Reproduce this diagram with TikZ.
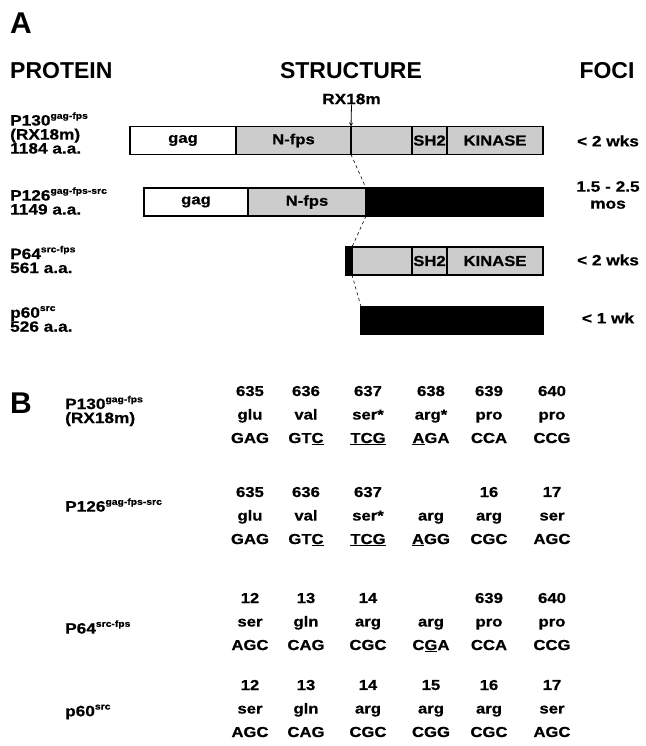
\documentclass[tikz,border=0pt]{standalone}
\usepackage{fontspec}
\setmainfont{Liberation Sans}
\newfontfamily\labfont[FakeStretch=1.15, FakeBold=0.6]{Liberation Sans}
\usetikzlibrary{arrows,positioning}
\definecolor{stipple}{gray}{0.8}
\newcommand{\protsup}[1]{\raisebox{0.85ex}{\fontsize{9}{9}\selectfont #1}}
\newcommand{\noresidue}{\phantom{0}}
\tikzset{
    panel/.style={font=\fontsize{30}{30}\selectfont\bfseries, inner sep=0},
    head/.style={font=\fontsize{23}{23}\selectfont\bfseries, inner sep=0},
    prot/.style={font=\labfont\fontsize{15}{14}\selectfont\bfseries,
                 align=left, anchor=west, inner sep=0},
    seg/.style={draw, line width=1.1pt, inner sep=0, outer sep=0,
                minimum height=28, font=\labfont\fontsize{14.5}{14.5}\selectfont\bfseries},
    segShade/.style={seg, fill=stipple},
    segSrc/.style={seg, fill=black},
    foci/.style={font=\labfont\fontsize{15}{17}\selectfont\bfseries,
                 align=center, inner sep=0},
    codon/.style={font=\labfont\fontsize{14.5}{23.5}\selectfont\bfseries,
                  align=center, inner sep=0,
                  execute at begin node=\strut, execute at end node=\strut},
    link/.style={draw, dashed, line width=0.6pt}
}

\begin{document}
\begin{tikzpicture}[x=1pt, y=-1pt]
  \useasboundingbox (0,0) rectangle (645,746);

  % panel A
  \node [panel, anchor=west] (panelA) at (10,23) {A};
  \node [head, anchor=west] (hProt) at (10,71) {PROTEIN};
  \node [head] (hStruct) at (351,71) {STRUCTURE};
  \node [head] (hFoci) at (607,71) {FOCI};

  \node [prot] (protA) at (10,133) {P130\protsup{gag-fps}\\(RX18m)\\1184 a.a.};
  \node [prot] (protB) at (10,201) {P126\protsup{gag-fps-src}\\1149 a.a.};
  \node [prot] (protC) at (10,259.5) {P64\protsup{src-fps}\\561 a.a.};
  \node [prot] (protD) at (10,319) {p60\protsup{src}\\526 a.a.};

  \node [seg, anchor=west, minimum width=106] (gagA) at (130,140.5) {gag};
  \node [segShade, minimum width=115, right=0pt of gagA] (nfpsA) {N-fps};
  \node [segShade, minimum width=61, right=0pt of nfpsA] (midA) {};
  \node [segShade, minimum width=35, right=0pt of midA] (shA) {SH2};
  \node [segShade, minimum width=96, right=0pt of shA] (kinA) {KINASE};

  \node [seg, anchor=west, minimum width=104] (gagB) at (144,202) {gag};
  \node [segShade, minimum width=118, right=0pt of gagB] (nfpsB) {N-fps};
  \node [segSrc, minimum width=177, right=0pt of nfpsB] (srcB) {};

  \node [segSrc, anchor=west, minimum width=6] (leadC) at (346,261) {};
  \node [segShade, minimum width=60, right=0pt of leadC] (midC) {};
  \node [segShade, minimum width=35, right=0pt of midC] (shC) {SH2};
  \node [segShade, minimum width=96, right=0pt of shC] (kinC) {KINASE};

  \node [segSrc, anchor=west, minimum width=182] (srcD) at (361,320.5) {};

  \node [prot, anchor=center] (rx) at (351.5,99) {RX18m};
  \draw [->, >=stealth, line width=0.8pt] (rx.south) -- (midA.north west);

  \draw [link] (midA.south west) -- (srcB.north west);
  \draw [link] (srcB.south west) -- (midC.north west);
  \draw [link] (midC.south west) -- (srcD.north west);

  \node [foci] (fociA) at (608,141) {< 2 wks};
  \node [foci] (fociB) at (608,195) {1.5 - 2.5\\mos};
  \node [foci] (fociC) at (608,260) {< 2 wks};
  \node [foci] (fociD) at (608,318) {< 1 wk};

  % panel B
  \node [panel, anchor=west] (panelB) at (10,403) {B};

  \node [prot] (seqLabA) at (65,411) {P130\protsup{gag-fps}\\(RX18m)};
  \node [prot] (seqLabB) at (65,505) {P126\protsup{gag-fps-src}};
  \node [prot] (seqLabC) at (65,627) {P64\protsup{src-fps}};
  \node [prot] (seqLabD) at (65,712) {p60\protsup{src}};

  \node [codon] (cA1) at (250,418) {635\\glu\\GAG};
  \node [codon] (cA2) at (306,418) {636\\val\\GT\underline{C}};
  \node [codon] (cA3) at (368,418) {637\\ser*\\\underline{TCG}};
  \node [codon] (cA4) at (431,418) {638\\arg*\\\underline{A}GA};
  \node [codon] (cA5) at (489,418) {639\\pro\\CCA};
  \node [codon] (cA6) at (552,418) {640\\pro\\CCG};

  \node [codon] (cB1) at (250,519) {635\\glu\\GAG};
  \node [codon] (cB2) at (306,519) {636\\val\\GT\underline{C}};
  \node [codon] (cB3) at (368,519) {637\\ser*\\\underline{TCG}};
  \node [codon] (cB4) at (431,519) {\noresidue\\arg\\\underline{A}GG};
  \node [codon] (cB5) at (489,519) {16\\arg\\CGC};
  \node [codon] (cB6) at (552,519) {17\\ser\\AGC};

  \node [codon] (cC1) at (250,625) {12\\ser\\AGC};
  \node [codon] (cC2) at (306,625) {13\\gln\\CAG};
  \node [codon] (cC3) at (368,625) {14\\arg\\CGC};
  \node [codon] (cC4) at (431,625) {\noresidue\\arg\\C\underline{G}A};
  \node [codon] (cC5) at (489,625) {639\\pro\\CCA};
  \node [codon] (cC6) at (552,625) {640\\pro\\CCG};

  \node [codon] (cD1) at (250,712) {12\\ser\\AGC};
  \node [codon] (cD2) at (306,712) {13\\gln\\CAG};
  \node [codon] (cD3) at (368,712) {14\\arg\\CGC};
  \node [codon] (cD4) at (431,712) {15\\arg\\CGG};
  \node [codon] (cD5) at (489,712) {16\\arg\\CGC};
  \node [codon] (cD6) at (552,712) {17\\ser\\AGC};
\end{tikzpicture}
\end{document}
